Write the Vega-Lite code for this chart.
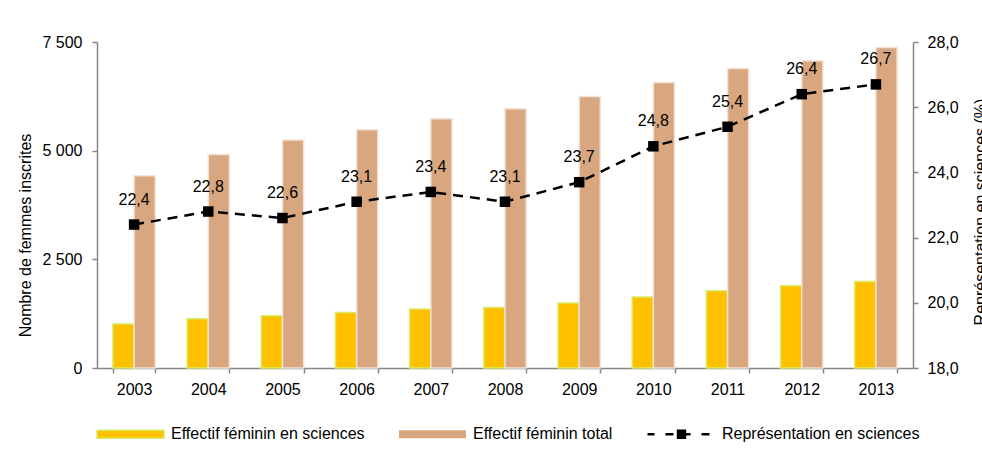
{
  "$schema": "https://vega.github.io/schema/vega-lite/v6.json",
  "width": 816,
  "height": 326,
  "autosize": {"type": "none"},
  "padding": {"left": 97, "top": 42, "right": 69, "bottom": 89},
  "background": "white",
  "config": {
    "font": "Liberation Sans",
    "view": {"stroke": null},
    "locale": {"number": {"decimal": ",", "thousands": " ", "grouping": [3], "currency": ["", " €"]}},
    "axis": {
      "domainColor": "#868686",
      "tickColor": "#868686",
      "domainWidth": 1.5,
      "tickWidth": 1.5,
      "tickSize": 5,
      "labelColor": "#000000",
      "labelFontSize": 16,
      "titleFontSize": 16,
      "titleFontWeight": "normal",
      "titleColor": "#000000",
      "grid": false
    }
  },
  "datasets": {
    "barres": [
      {"annee": "2003", "serie": "Effectif féminin en sciences", "valeur": 1012},
      {"annee": "2004", "serie": "Effectif féminin en sciences", "valeur": 1134},
      {"annee": "2005", "serie": "Effectif féminin en sciences", "valeur": 1203},
      {"annee": "2006", "serie": "Effectif féminin en sciences", "valeur": 1279},
      {"annee": "2007", "serie": "Effectif féminin en sciences", "valeur": 1357},
      {"annee": "2008", "serie": "Effectif féminin en sciences", "valeur": 1394},
      {"annee": "2009", "serie": "Effectif féminin en sciences", "valeur": 1495},
      {"annee": "2010", "serie": "Effectif féminin en sciences", "valeur": 1633},
      {"annee": "2011", "serie": "Effectif féminin en sciences", "valeur": 1775},
      {"annee": "2012", "serie": "Effectif féminin en sciences", "valeur": 1893},
      {"annee": "2013", "serie": "Effectif féminin en sciences", "valeur": 1992},
      {"annee": "2003", "serie": "Effectif féminin total", "valeur": 4424},
      {"annee": "2004", "serie": "Effectif féminin total", "valeur": 4914},
      {"annee": "2005", "serie": "Effectif féminin total", "valeur": 5245},
      {"annee": "2006", "serie": "Effectif féminin total", "valeur": 5482},
      {"annee": "2007", "serie": "Effectif féminin total", "valeur": 5735},
      {"annee": "2008", "serie": "Effectif féminin total", "valeur": 5965},
      {"annee": "2009", "serie": "Effectif féminin total", "valeur": 6248},
      {"annee": "2010", "serie": "Effectif féminin total", "valeur": 6570},
      {"annee": "2011", "serie": "Effectif féminin total", "valeur": 6892},
      {"annee": "2012", "serie": "Effectif féminin total", "valeur": 7069},
      {"annee": "2013", "serie": "Effectif féminin total", "valeur": 7375}
    ],
    "ligne": [
      {"annee": "2003", "pct": 22.4},
      {"annee": "2004", "pct": 22.8},
      {"annee": "2005", "pct": 22.6},
      {"annee": "2006", "pct": 23.1},
      {"annee": "2007", "pct": 23.4},
      {"annee": "2008", "pct": 23.1},
      {"annee": "2009", "pct": 23.7},
      {"annee": "2010", "pct": 24.8},
      {"annee": "2011", "pct": 25.4},
      {"annee": "2012", "pct": 26.4},
      {"annee": "2013", "pct": 26.7}
    ]
  },
  "layer": [
    {
      "data": {"name": "barres"},
      "mark": {"type": "bar", "strokeWidth": 1.5},
      "encoding": {
        "x": {
          "field": "annee", "type": "nominal",
          "scale": {"paddingInner": 0.43, "paddingOuter": 0.215},
          "axis": {"title": null, "labelAngle": 0, "tickBand": "extent", "labelPadding": 8}
        },
        "xOffset": {
          "field": "serie", "type": "nominal",
          "sort": ["Effectif féminin en sciences", "Effectif féminin total"],
          "scale": {"paddingInner": 0, "paddingOuter": 0}
        },
        "y": {
          "field": "valeur", "type": "quantitative",
          "scale": {"domain": [0, 7500]},
          "axis": {
            "values": [0, 2500, 5000, 7500],
            "format": ",.0f",
            "title": "Nombre de femmes inscrites",
            "titleAngle": -90,
            "titleX": -67,
            "titleY": 193,
            "titleBaseline": "alphabetic",
            "labelPadding": 10
          }
        },
        "color": {
          "field": "serie", "type": "nominal",
          "scale": {
            "domain": ["Effectif féminin en sciences", "Effectif féminin total", "Représentation en sciences"],
            "range": ["#FFC000", "#D9A77F", "#000000"]
          },
          "legend": {
            "title": null,
            "orient": "none",
            "legendX": -1,
            "legendY": 357.5,
            "direction": "horizontal",
            "padding": 0,
            "labelFontSize": 16,
            "labelColor": "#000000",
            "labelOffset": 6,
            "labelLimit": 400,
            "columnPadding": 31,
            "symbolSize": 4489,
            "symbolOpacity": 1,
            "encode": {
              "symbols": {
                "update": {
                  "shape": {"signal": "datum.value === 'Représentation en sciences' ? 'M-1.015,-0.04H-0.806V0.04H-1.015Z M-0.478,-0.04H-0.239V0.04H-0.478Z M-0.14,-0.14H0.14V0.14H-0.14Z M0.14,-0.04H0.27V0.04H0.14Z M0.597,-0.04H0.836V0.04H0.597Z' : 'M-1,-0.12H1V0.12H-1Z'"},
                  "stroke": {"signal": "datum.value === 'Effectif féminin en sciences' ? '#D8EC63' : 'transparent'"},
                  "strokeWidth": {"value": 1.5},
                  "opacity": {"value": 1},
                  "fillOpacity": {"value": 1}
                }
              }
            }
          }
        },
        "stroke": {
          "field": "serie", "type": "nominal",
          "scale": {
            "domain": ["Effectif féminin en sciences", "Effectif féminin total"],
            "range": ["#D8EC63", "#F3E2D5"]
          },
          "legend": null
        }
      }
    },
    {
      "data": {"name": "ligne"},
      "encoding": {
        "x": {"field": "annee", "type": "nominal"},
        "y": {
          "field": "pct", "type": "quantitative",
          "scale": {"domain": [18, 28]},
          "axis": {
            "orient": "right",
            "values": [18, 20, 22, 24, 26, 28],
            "format": ".1f",
            "title": "Représentation en sciences (%)",
            "titleAngle": -90,
            "titleX": 72,
            "titleY": 169.5,
            "titleBaseline": "alphabetic",
            "labelPadding": 9
          }
        }
      },
      "layer": [
        {"mark": {"type": "line", "color": "#000000", "strokeDash": [10, 7], "strokeWidth": 2.5}},
        {"mark": {"type": "point", "shape": "square", "filled": true, "size": 110, "color": "#000000", "opacity": 1}},
        {
          "mark": {"type": "text", "dy": -25, "fontSize": 16, "color": "#000000"},
          "encoding": {"text": {"field": "pct", "type": "quantitative", "format": ".1f"}}
        }
      ]
    }
  ],
  "resolve": {"scale": {"y": "independent"}}
}
